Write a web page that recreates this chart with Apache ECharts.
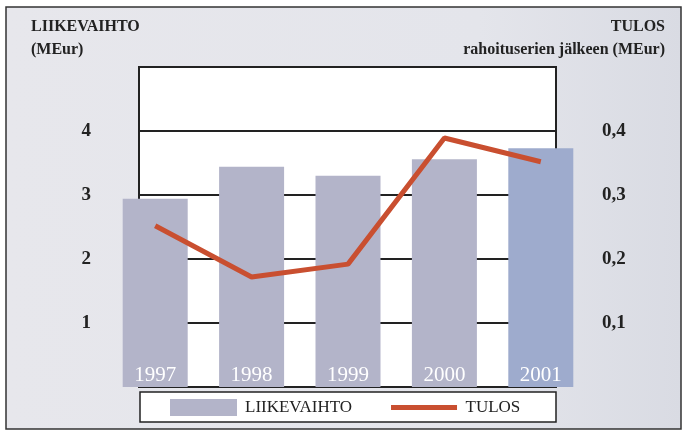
<!DOCTYPE html>
<html>
<head>
<meta charset="utf-8">
<style>
    html, body {margin: 0; padding: 0; background: #fff;}
    #chart {width: 682px; height: 432px;}
</style>
<script src="https://cdn.jsdelivr.net/npm/echarts@6/dist/echarts.min.js"></script>
</head>
<body>
<div id="chart"></div>
<script>
let years = ['1997', '1998', '1999', '2000', '2001']
let liikevaihto = [2.94, 3.44, 3.30, 3.56, 3.73]
let tulos = [0.252, 0.172, 0.192, 0.389, 0.352]
let leftTicks = [1, 2, 3, 4]
let rightTicks = [0.1, 0.2, 0.3, 0.4]
let serif = '"Liberation Serif", "DejaVu Serif", serif'
let barColor = '#b3b4c9', lastBarColor = '#9eabcd', lineColor = '#c94f30'

function tickLabel(v, list, fmt) {
    for (let i = 0; i < list.length; i++) {
        if (Math.abs(list[i] - v) < 1e-6) return fmt(list[i])
    }
    return ''
}

let chartA = echarts.init(document.getElementById('chart'))
let titleStyle = {fontFamily: serif, fontSize: 16, fontWeight: 'bold', color: '#222'}
let option = {
    backgroundColor: '#fff',
    animation: false,
    textStyle: {fontFamily: serif},
    graphic: [{
        type: 'rect',
        z: -10,
        shape: {x: 6, y: 7, width: 675, height: 422},
        style: {
            fill: new echarts.graphic.LinearGradient(0, 0, 1, 0, [
                {offset: 0, color: '#e7e7ec'},
                {offset: 0.7, color: '#e4e5eb'},
                {offset: 1, color: '#d9dbe3'}
            ]),
            stroke: '#333',
            lineWidth: 1.5
        }
    }, {
        type: 'rect',
        z: 5,
        shape: {x: 140, y: 392, width: 416, height: 30},
        style: {fill: '#fff', stroke: '#222', lineWidth: 1.5}
    }],
    title: [{
        text: 'LIIKEVAIHTO', left: 31, top: 19, padding: 0, textStyle: titleStyle
    }, {
        text: '(MEur)', left: 31, top: 42, padding: 0, textStyle: titleStyle
    }, {
        text: 'TULOS', right: 17, top: 19, padding: 0, textStyle: titleStyle
    }, {
        text: 'rahoituserien jälkeen (MEur)', right: 17, top: 42, padding: 0, textStyle: titleStyle
    }],
    legend: {
        left: 170, top: 399,
        padding: 0,
        z: 6,
        itemWidth: 67, itemHeight: 17, itemGap: 39,
        textStyle: {fontFamily: serif, fontSize: 17, color: '#222', padding: [0, 0, 0, 3]},
        data: [{
            name: 'LIIKEVAIHTO', icon: 'rect', itemStyle: {color: barColor}
        }, {
            name: 'TULOS',
            icon: 'path://M0,0 M66,17 M0,6 L66,6 L66,11 L0,11 Z',
            itemStyle: {color: lineColor}
        }]
    },
    grid: [{
        // white panel with the grid lines
        left: 139, top: 67, width: 417, height: 320,
        show: true,
        backgroundColor: '#fff',
        borderColor: '#222',
        borderWidth: 2
    }, {
        // bars and line
        left: 107, top: 67, width: 482, height: 320
    }],
    xAxis: [{
        gridIndex: 0, type: 'value', show: false
    }, {
        gridIndex: 1, type: 'category', data: years, show: false, boundaryGap: true
    }],
    yAxis: [{
        gridIndex: 0, type: 'value', min: 0, max: 5, interval: 1, position: 'left',
        axisLine: {show: false}, axisTick: {show: false},
        splitLine: {lineStyle: {color: '#222', width: 2}},
        axisLabel: {
            margin: 48, fontFamily: serif, fontSize: 19, fontWeight: 'bold', color: '#222',
            formatter: function (v) { return tickLabel(v, leftTicks, function (t) { return t + '' }) }
        }
    }, {
        gridIndex: 0, type: 'value', min: 0, max: 0.5, interval: 0.1, position: 'right',
        axisLine: {show: false}, axisTick: {show: false}, splitLine: {show: false},
        axisLabel: {
            margin: 46, fontFamily: serif, fontSize: 19, fontWeight: 'bold', color: '#222',
            formatter: function (v) {
                return tickLabel(v, rightTicks, function (t) { return t.toFixed(1).replace('.', ',') })
            }
        }
    }, {
        gridIndex: 1, type: 'value', min: 0, max: 5, show: false, splitLine: {show: false}
    }, {
        gridIndex: 1, type: 'value', min: 0, max: 0.5, show: false, splitLine: {show: false}
    }],
    series: [{
        name: 'LIIKEVAIHTO',
        type: 'bar',
        xAxisIndex: 1, yAxisIndex: 2,
        barWidth: 65,
        data: liikevaihto,
        itemStyle: {
            color: function (p) { return p.dataIndex === years.length - 1 ? lastBarColor : barColor }
        },
        label: {
            show: true,
            position: 'insideBottom',
            distance: 1,
            formatter: '{b}',
            color: '#fff',
            fontFamily: serif,
            fontSize: 21
        }
    }, {
        name: 'TULOS',
        type: 'line',
        xAxisIndex: 1, yAxisIndex: 3,
        data: tulos,
        symbol: 'none',
        z: 4,
        lineStyle: {color: lineColor, width: 5},
        itemStyle: {color: lineColor}
    }]
}
chartA.setOption(option)
</script>
</body>
</html>
